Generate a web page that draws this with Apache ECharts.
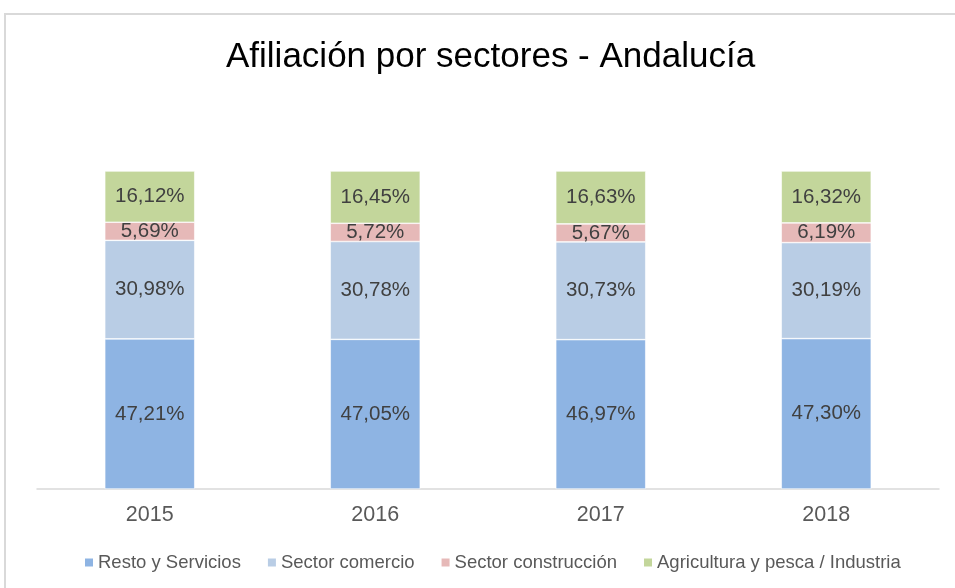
<!DOCTYPE html>
<html>
<head>
<meta charset="utf-8">
<script src="https://cdn.jsdelivr.net/npm/echarts@6/dist/echarts.min.js"></script>
<style>
html,body{margin:0;padding:0;background:#fff;}
#frame{position:absolute;left:4px;top:13px;width:960px;height:590px;border:2px solid #d9d9d9;box-sizing:border-box;}
#chart{position:absolute;left:0;top:0;width:955px;height:588px;}
</style>
</head>
<body>
<div id="frame"></div>
<div id="chart"></div>
<script>
var years = ['2015', '2016', '2017', '2018'];
var legendNames = ['Resto y Servicios', 'Sector comercio', 'Sector construcción', 'Agricultura y pesca / Industria'];
var resto = [47.21, 47.05, 46.97, 47.30];
var comercio = [30.98, 30.78, 30.73, 30.19];
var construccion = [5.69, 5.72, 5.67, 6.19];
var agricultura = [16.12, 16.45, 16.63, 16.32];
var colors = ['#8EB4E3', '#B9CDE5', '#E6B9B8', '#C3D69B'];

function mkSeries(name, data) {
    return {
        name: name,
        type: 'bar',
        stack: 'total',
        data: data,
        barWidth: 90,
        itemStyle: {borderColor: '#ffffff', borderWidth: 0.6},
        label: {
            show: true,
            position: 'inside',
            color: '#404040',
            fontFamily: 'Liberation Sans',
            fontSize: 20.5,
            formatter: function (p) {
                return p.value.toFixed(2).replace('.', ',') + '%';
            }
        }
    };
}

var chart = echarts.init(document.getElementById('chart'));
var option = {
    animation: false,
    color: colors,
    title: {
        text: 'Afiliación por sectores - Andalucía',
        left: 221,
        top: 35,
        textStyle: {fontFamily: 'Liberation Sans', fontSize: 35, fontWeight: 'normal', color: '#000000'}
    },
    legend: {
        data: legendNames,
        bottom: 11,
        left: 78,
        itemWidth: 10,
        itemHeight: 10,
        itemGap: 25,
        icon: 'rect',
        textStyle: {fontFamily: 'Liberation Sans', fontSize: 18.5, color: '#595959', padding: [0, 0, 0, -1]}
    },
    grid: {left: 37, right: 16, top: 171, bottom: 99, containLabel: false},
    xAxis: {
        type: 'category',
        data: years,
        axisLine: {lineStyle: {color: '#d9d9d9', width: 1.5}},
        axisTick: {show: false},
        axisLabel: {fontFamily: 'Liberation Sans', fontSize: 21.5, color: '#595959', margin: 15}
    },
    yAxis: {
        type: 'value',
        min: 0,
        max: 100,
        show: false,
        splitLine: {show: false}
    },
    series: [
        mkSeries(legendNames[0], resto),
        mkSeries(legendNames[1], comercio),
        mkSeries(legendNames[2], construccion),
        mkSeries(legendNames[3], agricultura)
    ]
};
chart.setOption(option);
window.onresize = chart.resize;
</script>
</body>
</html>
